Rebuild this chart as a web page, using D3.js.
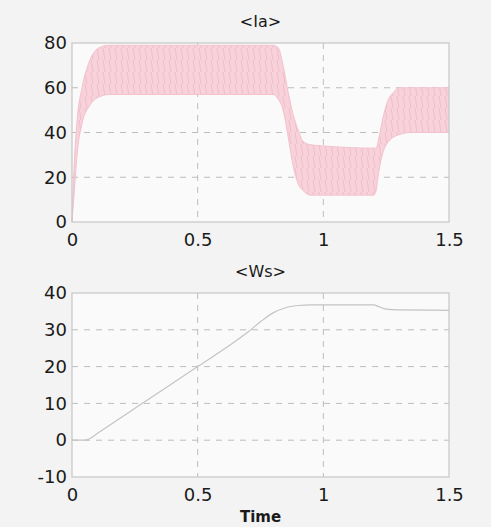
<!DOCTYPE html>
<html>
<head>
<meta charset="utf-8">
<script src="https://cdn.jsdelivr.net/npm/d3@7"></script>
<style>
  body { margin: 0; background: #f3f3f3; }
  text { font-family: 'DejaVu Sans', sans-serif; }
</style>
</head>
<body>
<svg id="vis" width="491" height="527"></svg>
<script>
// Ia envelope (ripple band)
const iaTime = [0, 0.01, 0.02, 0.04, 0.07, 0.11, 0.15, 0.2, 0.5, 0.8, 0.82, 0.84, 0.86, 0.88, 0.9, 0.92, 0.95, 1.0, 1.2, 1.21, 1.22, 1.24, 1.26, 1.28, 1.3, 1.35, 1.5];
const iaUpper = [0, 28, 45, 60, 72, 78, 79, 79, 79, 79, 78, 70, 58, 48, 41, 36, 34.5, 34, 33, 33, 37, 48, 55, 58, 60, 60, 60];
const iaLower = [0, 15, 30, 44, 52, 56, 57, 57, 57, 57, 55, 50, 38, 25, 17, 14, 12, 12, 12, 14, 22, 32, 36, 38, 39, 40, 40];

// Ws speed trace
const wsTime = [0, 0.05, 0.07, 0.1, 0.3, 0.5, 0.65, 0.7, 0.75, 0.8, 0.85, 0.9, 0.95, 1.0, 1.2, 1.22, 1.25, 1.3, 1.5];
const wsValue = [0, 0, 0.4, 1.8, 10.9, 20, 26.9, 29.4, 32.2, 34.6, 36.0, 36.6, 36.8, 36.8, 36.8, 36.3, 35.6, 35.4, 35.3];

const xTicks = [0, 0.5, 1, 1.5];
const iaTicks = [0, 20, 40, 60, 80];
const wsTicks = [-10, 0, 10, 20, 30, 40];

const svg = d3.select('#vis');

const left = 72;
const right = 449;

const x = d3.scaleLinear().domain([0, 1.5]).range([left, right]);
const yIa = d3.scaleLinear().domain([0, 80]).range([222, 43]);
const yWs = d3.scaleLinear().domain([-10, 40]).range([477, 293]);

// ripple texture for the current band
const defs = svg.append('defs');
const pat = defs
  .append('pattern')
  .attr('id', 'ripple')
  .attr('patternUnits', 'userSpaceOnUse')
  .attr('width', 6)
  .attr('height', 12);
pat.append('rect').attr('width', 6).attr('height', 12).attr('fill', '#f8d2db');
pat
  .append('line')
  .attr('x1', 1)
  .attr('y1', 0)
  .attr('x2', 3)
  .attr('y2', 12)
  .attr('stroke', '#efb8c5')
  .attr('stroke-width', 0.8);

function drawFrame(y, yTicks, title, titleY) {
  const top = y.range()[1];
  const bottom = y.range()[0];

  svg
    .append('rect')
    .attr('x', left)
    .attr('y', top)
    .attr('width', right - left)
    .attr('height', bottom - top)
    .attr('fill', '#fafafa');

  const grid = svg.append('g').attr('class', 'grid');
  grid
    .selectAll('line.gx')
    .data(xTicks.slice(1, -1))
    .enter()
    .append('line')
    .attr('x1', d => x(d))
    .attr('x2', d => x(d))
    .attr('y1', top)
    .attr('y2', bottom);
  grid
    .selectAll('line.gy')
    .data(yTicks.slice(1, -1))
    .enter()
    .append('line')
    .attr('x1', left)
    .attr('x2', right)
    .attr('y1', d => y(d))
    .attr('y2', d => y(d));
  grid
    .selectAll('line')
    .attr('stroke', '#bdbdbd')
    .attr('stroke-width', 1)
    .attr('stroke-dasharray', '6,6');

  // Add x-axis
  const gx = svg
    .append('g')
    .attr('transform', `translate(0,${bottom})`)
    .call(d3.axisBottom(x).tickValues(xTicks).tickSize(0).tickPadding(11).tickFormat(d => String(d)));

  // Add y-axis
  const gy = svg
    .append('g')
    .attr('transform', `translate(${left},0)`)
    .call(d3.axisLeft(y).tickValues(yTicks).tickSize(0).tickPadding(5).tickFormat(d => String(d)));

  [gx, gy].forEach(g => {
    g.select('.domain').remove();
    g.selectAll('text')
      .style('font-family', "'DejaVu Sans', sans-serif")
      .style('font-size', '18px')
      .attr('fill', '#1a1a1a');
  });

  svg
    .append('text')
    .attr('x', (left + right) / 2)
    .attr('y', titleY)
    .attr('text-anchor', 'middle')
    .style('font-size', '16px')
    .attr('fill', '#1a1a1a')
    .text(title);
}

function drawBorder(y) {
  const top = y.range()[1];
  const bottom = y.range()[0];
  svg
    .append('rect')
    .attr('x', left)
    .attr('y', top)
    .attr('width', right - left)
    .attr('height', bottom - top)
    .attr('fill', 'none')
    .attr('stroke', '#c6c6c6')
    .attr('stroke-width', 1.2);
}

// Top panel: <Ia>
drawFrame(yIa, iaTicks, '<Ia>', 27);

const band = iaTime.map((t, i) => ({ t, hi: iaUpper[i], lo: iaLower[i] }));

svg
  .append('path')
  .datum(band)
  .attr('fill', 'url(#ripple)')
  .attr(
    'd',
    d3
      .area()
      .curve(d3.curveMonotoneX)
      .x(d => x(d.t))
      .y0(d => yIa(d.lo))
      .y1(d => yIa(d.hi))
  );

['hi', 'lo'].forEach(k => {
  svg
    .append('path')
    .datum(band)
    .attr('fill', 'none')
    .attr('stroke', '#f3c2ce')
    .attr('stroke-width', 1)
    .attr(
      'd',
      d3
        .line()
        .curve(d3.curveMonotoneX)
        .x(d => x(d.t))
        .y(d => yIa(d[k]))
    );
});

drawBorder(yIa);

// Bottom panel: <Ws>
drawFrame(yWs, wsTicks, '<Ws>', 277);

svg
  .append('path')
  .datum(wsTime.map((t, i) => ({ t, v: wsValue[i] })))
  .attr('fill', 'none')
  .attr('stroke', '#c4c4c4')
  .attr('stroke-width', 1.2)
  .attr(
    'd',
    d3
      .line()
      .curve(d3.curveMonotoneX)
      .x(d => x(d.t))
      .y(d => yWs(d.v))
  );

drawBorder(yWs);

svg
  .append('text')
  .attr('x', (left + right) / 2)
  .attr('y', 522)
  .attr('text-anchor', 'middle')
  .style('font-size', '15px')
  .style('font-weight', 'bold')
  .attr('fill', '#1a1a1a')
  .text('Time');
</script>
</body>
</html>
